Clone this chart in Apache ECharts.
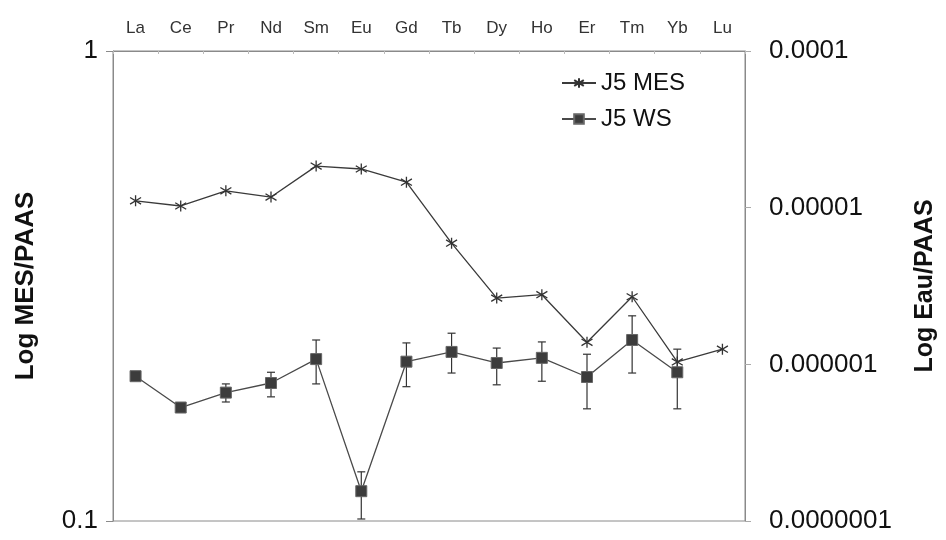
<!DOCTYPE html>
<html lang="en">
<head>
    <meta charset="UTF-8">
    <title>J5 REE PAAS</title>
    <script src="https://cdn.jsdelivr.net/npm/echarts@6/dist/echarts.min.js"></script>
    <style>
        html, body { margin: 0; padding: 0; background: #fff; }
        #chartmain { width: 946px; height: 540px; }
    </style>
</head>
<body>
<div id="chartmain"></div>
<script>
    // REE categories (top axis)
    var elements = ["La", "Ce", "Pr", "Nd", "Sm", "Eu", "Gd", "Tb", "Dy", "Ho", "Er", "Tm", "Yb", "Lu"];

    // J5 MES, left log axis (MES/PAAS)
    var mesValues = [0.480, 0.468, 0.504, 0.489, 0.569, 0.561, 0.526, 0.390, 0.298, 0.303, 0.240, 0.300, 0.218, 0.232];

    // J5 WS, right log axis (Eau/PAAS), no Lu value
    var wsValues = [8.4e-7, 5.3e-7, 6.6e-7, 7.6e-7, 1.08e-6, 1.55e-7, 1.04e-6, 1.20e-6, 1.02e-6, 1.10e-6, 8.3e-7, 1.43e-6, 8.9e-7, null];
    var wsHigh = [8.4e-7, 5.3e-7, 7.5e-7, 8.9e-7, 1.43e-6, 2.06e-7, 1.37e-6, 1.58e-6, 1.27e-6, 1.39e-6, 1.16e-6, 2.04e-6, 1.25e-6, null];
    var wsLow = [8.4e-7, 5.3e-7, 5.75e-7, 6.2e-7, 7.5e-7, 1.03e-7, 7.2e-7, 8.8e-7, 7.4e-7, 7.8e-7, 5.2e-7, 8.8e-7, 5.2e-7, null];

    var font = "'Liberation Sans', Arial, sans-serif";

    function decimalLabel(v) {
        var d = Math.max(0, -Math.round(Math.log10(v)));
        return v.toFixed(d);
    }

    var errData = [];
    for (var i = 0; i < elements.length; i++) {
        if (wsHigh[i] != null && wsHigh[i] !== wsLow[i]) {
            errData.push([i, wsHigh[i], wsLow[i]]);
        }
    }

    var starPath = 'path://M10,0 L10,20 M1.5,4 L18.5,16 M1.5,16 L18.5,4';

    var option = {
        backgroundColor: '#fff',
        animation: false,
        textStyle: { fontFamily: font },
        grid: {
            left: 113, right: 198, top: 51, bottom: 19,
            show: true, borderColor: '#8a8a8a', borderWidth: 1
        },
        legend: {
            orient: 'vertical',
            left: 556, top: 66,
            itemWidth: 34, itemHeight: 12, itemGap: 12,
            textStyle: { fontSize: 24, color: '#111', fontFamily: font },
            data: ['J5 MES', 'J5 WS']
        },
        xAxis: {
            type: 'category',
            position: 'top',
            data: elements,
            boundaryGap: true,
            axisLine: { lineStyle: { color: '#8a8a8a', width: 1 } },
            axisTick: { show: true, inside: true, length: 3, lineStyle: { color: '#bbb' } },
            axisLabel: {
                margin: 14, fontSize: 17, color: '#333',
                fontFamily: "'Liberation Sans Narrow', 'Liberation Sans', sans-serif"
            },
            splitLine: { show: false }
        },
        yAxis: [{
            type: 'log', logBase: 10, min: 0.1, max: 1,
            position: 'left',
            name: 'Log MES/PAAS',
            nameLocation: 'middle',
            nameGap: 74,
            nameTextStyle: { fontSize: 26, fontWeight: 'bold', color: '#111', fontFamily: font },
            axisLine: { show: true, lineStyle: { color: '#8a8a8a' } },
            axisTick: { show: true, length: 7, lineStyle: { color: '#8a8a8a' } },
            axisLabel: { margin: 15, fontSize: 26, color: '#111', formatter: decimalLabel },
            splitLine: { show: false }
        }, {
            type: 'log', logBase: 10, min: 1e-7, max: 1e-4,
            position: 'right',
            name: 'Log Eau/PAAS',
            nameLocation: 'middle',
            nameGap: 168,
            nameTextStyle: { fontSize: 25, fontWeight: 'bold', color: '#111', fontFamily: font },
            axisLine: { show: true, lineStyle: { color: '#8a8a8a' } },
            axisTick: { show: true, length: 6, lineStyle: { color: '#aaa' } },
            axisLabel: { margin: 24, fontSize: 26, color: '#111', formatter: decimalLabel },
            splitLine: { show: false }
        }],
        series: [{
            name: 'J5 MES',
            type: 'line',
            yAxisIndex: 0,
            data: mesValues,
            symbol: starPath,
            symbolSize: 11,
            showAllSymbol: true,
            lineStyle: { color: '#3a3a3a', width: 1.3 },
            itemStyle: { color: 'rgba(0,0,0,0)', borderColor: '#333', borderWidth: 1.3 },
            z: 3
        }, {
            name: 'err',
            type: 'custom',
            yAxisIndex: 1,
            data: errData,
            encode: { x: 0, y: [1, 2] },
            renderItem: function (params, api) {
                var x = api.value(0);
                var top = api.coord([x, api.value(1)]);
                var bot = api.coord([x, api.value(2)]);
                var half = 4;
                var st = { stroke: '#333', lineWidth: 1.2 };
                return {
                    type: 'group',
                    children: [
                        { type: 'line', shape: { x1: top[0], y1: top[1], x2: bot[0], y2: bot[1] }, style: st },
                        { type: 'line', shape: { x1: top[0] - half, y1: top[1], x2: top[0] + half, y2: top[1] }, style: st },
                        { type: 'line', shape: { x1: bot[0] - half, y1: bot[1], x2: bot[0] + half, y2: bot[1] }, style: st }
                    ]
                };
            },
            z: 2
        }, {
            name: 'J5 WS',
            type: 'line',
            yAxisIndex: 1,
            data: wsValues,
            symbol: 'rect',
            symbolSize: 11,
            showAllSymbol: true,
            connectNulls: false,
            lineStyle: { color: '#4a4a4a', width: 1.3 },
            itemStyle: { color: '#3c3c3c', borderColor: '#666', borderWidth: 1 },
            z: 4
        }]
    };

    var myChart = echarts.init(document.getElementById('chartmain'));
    myChart.setOption(option);
</script>
</body>
</html>
